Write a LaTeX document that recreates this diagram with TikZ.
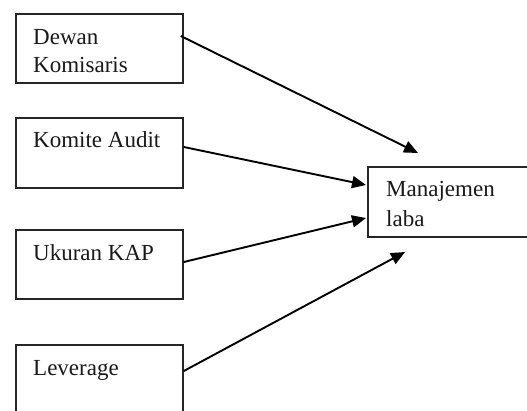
\documentclass[tikz,border=0pt]{standalone}
\usepackage{fontspec}
\setmainfont{Liberation Serif}
\usetikzlibrary{arrows.meta}
\begin{document}
\begin{tikzpicture}[x=1pt,y=-1pt,
  box/.style={draw=black!85,line width=1.8pt,rectangle,inner sep=0pt,anchor=north west},
  lbl/.style={anchor=base west,inner sep=0pt,font=\fontsize{23}{28}\selectfont,text=black!90},
  link/.style={line width=1.9pt,-{Triangle[length=14pt,width=12pt]}}]
\useasboundingbox (0,0) rectangle (527,410);
\clip (0,0) rectangle (527,410);
\fill[white] (0,0) rectangle (527,410);
\node[box,minimum width=167pt,minimum height=69pt] (b1) at (15,13) {};
\node[box,minimum width=167pt,minimum height=70pt] (b2) at (15,117) {};
\node[box,minimum width=167pt,minimum height=69pt] (b3) at (15,229) {};
\node[box,minimum width=167pt,minimum height=100pt] (b4) at (15,344) {};
\node[box,minimum width=220pt,minimum height=70pt] (m) at (367,166) {};
\node[lbl] (t1a) at (33,44) {Dewan};
\node[lbl] (t1b) at (33,72.7) {Komisaris};
\node[lbl] (t2) at (33,147) {Komite Audit};
\node[lbl] (t3) at (33,260) {Ukuran KAP};
\node[lbl] (t4) at (33,375) {Leverage};
\node[lbl] (tm1) at (386,196.7) {Manajemen};
\node[lbl] (tm2) at (386,226.7) {laba};
\draw[link] ([xshift=-3pt,yshift=-23pt]b1.north east) -- ([xshift=51pt,yshift=13pt]m.north west);
\draw[link] ([yshift=-30pt]b2.north east) -- ([xshift=-1pt,yshift=-19pt]m.north west);
\draw[link] ([yshift=-33pt]b3.north east) -- ([xshift=-1pt,yshift=-52pt]m.north west);
\draw[link] ([yshift=-27pt]b4.north east) -- ([xshift=38pt,yshift=-86pt]m.north west);
\end{tikzpicture}
\end{document}
